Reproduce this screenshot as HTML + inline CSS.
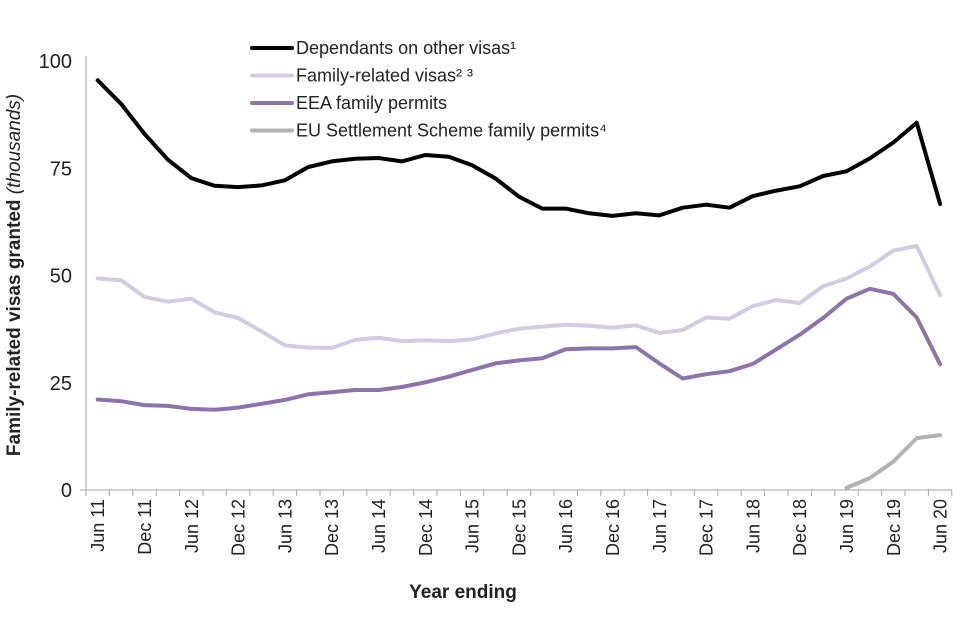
<!DOCTYPE html>
<html><head><meta charset="utf-8"><style>
body{margin:0;background:#fff;}
svg{display:block;font-family:"Liberation Sans",Arial,sans-serif;}
</style></head><body>
<svg id="chart" width="960" height="640"></svg>
<script>
const categories=["Jun 11","Sep 11","Dec 11","Mar 12","Jun 12","Sep 12","Dec 12","Mar 13","Jun 13","Sep 13","Dec 13","Mar 14","Jun 14","Sep 14","Dec 14","Mar 15","Jun 15","Sep 15","Dec 15","Mar 16","Jun 16","Sep 16","Dec 16","Mar 17","Jun 17","Sep 17","Dec 17","Mar 18","Jun 18","Sep 18","Dec 18","Mar 19","Jun 19","Sep 19","Dec 19","Mar 20","Jun 20"];
const dependants=[95.5,90,83,77,72.7,70.9,70.6,71,72.2,75.3,76.6,77.2,77.4,76.6,78.1,77.7,75.7,72.6,68.4,65.6,65.6,64.5,63.9,64.5,64.0,65.8,66.5,65.8,68.5,69.8,70.8,73.2,74.3,77.3,81,85.6,66.7];
const familyVisas=[49.3,48.9,45,43.9,44.6,41.4,40.1,37,33.7,33.2,33.1,35,35.5,34.7,34.9,34.7,35.1,36.5,37.6,38.1,38.5,38.3,37.8,38.4,36.6,37.3,40.2,39.9,42.9,44.3,43.6,47.5,49.3,52.1,55.8,56.9,45.4];
const eeaPermits=[21.1,20.7,19.8,19.6,18.9,18.7,19.2,20.1,21,22.3,22.8,23.3,23.3,24,25.1,26.4,28,29.5,30.2,30.7,32.8,33,33,33.3,29.5,26,27,27.7,29.4,32.8,36.2,40.1,44.6,46.9,45.7,40.2,29.3];
const eussPermits=[null,null,null,null,null,null,null,null,null,null,null,null,null,null,null,null,null,null,null,null,null,null,null,null,null,null,null,null,null,null,null,null,0.5,2.8,6.6,12.1,12.8];
const yTicks=[0,25,50,75,100];
const seriesNames=["Dependants on other visas¹","Family-related visas² ³","EEA family permits","EU Settlement Scheme family permits⁴"];

const svg=document.getElementById('chart');
const NS='http://www.w3.org/2000/svg';
const x0=86,step=23.4,y0=490,yTop=61;
const xPos=i=>x0+step/2+i*step;
const yPos=v=>y0-(v/100)*(y0-yTop);
function mk(tag,attrs,parent){const e=document.createElementNS(NS,tag);for(const k in attrs)e.setAttribute(k,attrs[k]);(parent||svg).appendChild(e);return e;}

const axes=mk('g',{});


const ya=mk('line',{x1:x0,y1:yTop-5,x2:x0,y2:y0,stroke:'#a6a6a6','stroke-width':1},axes);


const xa=mk('line',{x1:x0-6,y1:y0,x2:x0+categories.length*step,y2:y0,stroke:'#a6a6a6','stroke-width':1},axes);


for(let i=0;i<=categories.length;i++){
  const t=mk('line',{x1:x0+i*step,y1:y0,x2:x0+i*step,y2:y0+6,stroke:'#a6a6a6'},axes);
  
  
}
yTicks.forEach(v=>{
  const t=mk('text',{x:x0-14,y:yPos(v)+7,'text-anchor':'end','font-size':20,fill:'#222'},axes);
  t.textContent=v;
  
  
});
categories.forEach((c,i)=>{
  if(i%2)return;
  const x=xPos(i)+6.5,y=y0+9;
  const t=mk('text',{x:x,y:y,'text-anchor':'end','font-size':18,fill:'#222',transform:`rotate(-90 ${x} ${y})`},axes);
  t.textContent=c;
  
  
});
const xt=mk('text',{x:463,y:598,'text-anchor':'middle','font-size':19,'font-weight':'bold',fill:'#222'});
xt.textContent='Year ending';


const yt=mk('text',{x:0,y:0,'text-anchor':'middle','font-size':19,'font-weight':'bold',fill:'#222',transform:'translate(20 275) rotate(-90)'});
yt.innerHTML='Family-related visas granted <tspan font-style="italic" font-weight="normal">(thousands)</tspan>';



const series=[[dependants,'#000000','dependants-line'],[familyVisas,'#d3cbe2','family-visas-line'],[eeaPermits,'#8d73ac','eea-permits-line'],[eussPermits,'#b3b3b3','euss-permits-line']];
series.forEach(([d,col,name])=>{
  let p='';let started=false;
  d.forEach((v,i)=>{if(v==null)return;p+=(started?'L':'M')+xPos(i).toFixed(1)+' '+yPos(v).toFixed(1);started=true;});
  const l=mk('path',{d:p,fill:'none',stroke:col,'stroke-width':4,'stroke-linejoin':'round','stroke-linecap':'round'});
  
  
});

const lg=mk('g',{});


seriesNames.forEach((n,i)=>{
  const y=48+i*27.5;
  const g=mk('g',{},lg);
  
  
  mk('line',{x1:252,y1:y,x2:292,y2:y,stroke:series[i][1],'stroke-width':4,'stroke-linecap':'round'},g);
  const t=mk('text',{x:296,y:y+6,'font-size':18,fill:'#222'},g);
  t.textContent=n;
});
</script>
</body></html>
